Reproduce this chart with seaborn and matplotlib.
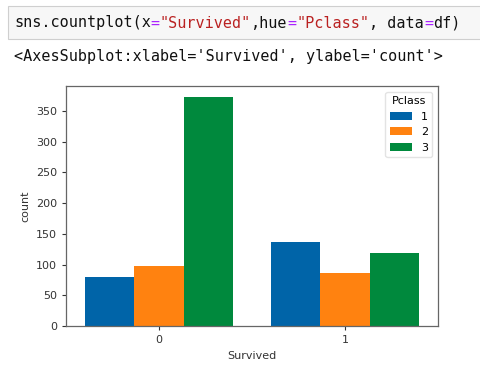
import numpy as np
import pandas as pd
import seaborn as sns
import matplotlib
matplotlib.use("Agg")
import matplotlib.pyplot as plt
from matplotlib.patches import Rectangle

# Data (counts)
survived = ["0", "1"]
pclass = ["1", "2", "3"]
counts_survived0 = [80, 97, 372]
counts_survived1 = [136, 87, 119]
colors = ["#0064a8", "#ff8210", "#00893d"]
yticks = [0, 50, 100, 150, 200, 250, 300, 350]

code_parts = [("sns.countplot(x", "#111111"), ("=", "#aa22ff"), ('"Survived"', "#ba2121"),
              (",hue", "#111111"), ("=", "#aa22ff"), ('"Pclass"', "#ba2121"),
              (", data", "#111111"), ("=", "#aa22ff"), ("df)", "#111111")]
output_text = "<AxesSubplot:xlabel='Survived', ylabel='count'>"

rows = []
for s, cnts in zip(survived, [counts_survived0, counts_survived1]):
    for p, c in zip(pclass, cnts):
        rows.append(pd.DataFrame({"Survived": [s] * c, "Pclass": [p] * c}))
df = pd.concat(rows, ignore_index=True)

W, H, DPI = 480, 371, 100
fig = plt.figure(figsize=(W / DPI, H / DPI), dpi=DPI)
fig.patch.set_facecolor("white")

# Code cell box
fig.patches.append(Rectangle((8 / W, 1 - 39 / H), 1.0, 33 / H, transform=fig.transFigure,
                             facecolor="#f7f7f7", edgecolor="#cfcfcf", lw=0.8, zorder=0))
fs = 10.9
cw = fs * 0.6021 * DPI / 72.0
x0 = 14
idx = 0
for txt, col in code_parts:
    fig.text((x0 + idx * cw) / W, 1 - 23 / H, txt, color=col, fontsize=fs,
             family="DejaVu Sans Mono", va="center", ha="left")
    idx += len(txt)
fig.text(x0 / W, 1 - 57 / H, output_text, color="#111111", fontsize=fs,
         family="DejaVu Sans Mono", va="center", ha="left")

ax = fig.add_axes([66 / W, 1 - 326 / H, (438 - 66) / W, (326 - 86) / H])
sns.countplot(x="Survived", hue="Pclass", data=df, order=survived, hue_order=pclass,
              palette=colors, ax=ax, saturation=1, width=0.8)
ax.set_ylim(0, 390.6)
ax.set_xlim(-0.5, 1.5)
ax.set_yticks(yticks)
ax.tick_params(labelsize=8, colors="#333333", length=3)
for s in ax.spines.values():
    s.set_color("#666666")
    s.set_linewidth(0.9)
ax.set_xlabel("Survived", fontsize=8, color="#333333")
ax.set_ylabel("count", fontsize=8, color="#333333")
leg = ax.legend(title="Pclass", loc="upper right", fontsize=8, title_fontsize=8,
                handlelength=2.0, frameon=True)
leg.get_frame().set_edgecolor("#dddddd")

fig.savefig("out.png", dpi=DPI)
